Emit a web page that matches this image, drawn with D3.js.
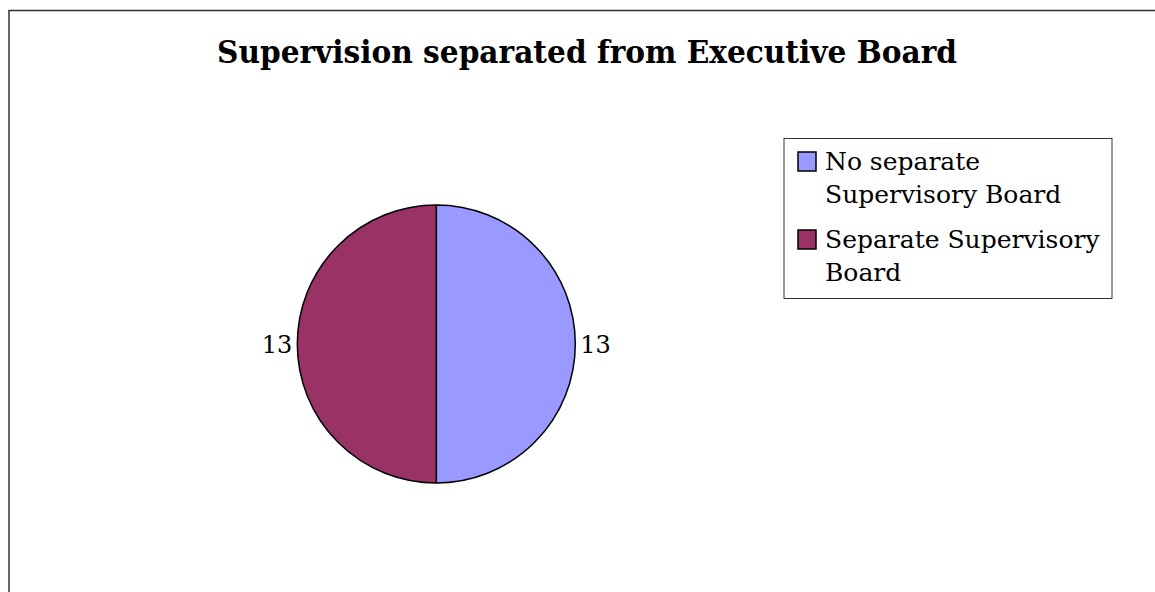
<!DOCTYPE html>
<html>
<head>
<meta charset="utf-8">
<script src="https://cdn.jsdelivr.net/npm/d3@7"></script>
<style>
  html, body { margin: 0; padding: 0; background: #fff; }
  svg { display: block; }
</style>
</head>
<body>
<svg id="chart" width="1155" height="592"></svg>
<script>
// Pie data: board structure counts
const categories = ["No separate Supervisory Board", "Separate Supervisory Board"];
const legendLines = [["No separate", "Supervisory Board"], ["Separate Supervisory", "Board"]];
const counts = [13, 13];
const colors = ["#9999FF", "#993366"];
const title = "Supervision separated from Executive Board";

const svg = d3.select("#chart");
const font = "'DejaVu Serif', 'Liberation Serif', serif";

// outer chart frame (extends past right and bottom edges)
svg.append("rect")
  .attr("x", 9).attr("y", 10.5)
  .attr("width", 1200).attr("height", 700)
  .attr("fill", "#fff").attr("stroke", "#333").attr("stroke-width", 1.5);

// title
svg.append("text")
  .attr("x", 587).attr("y", 63)
  .attr("text-anchor", "middle")
  .attr("font-family", font)
  .attr("font-weight", "bold")
  .attr("font-size", 31)
  .attr("textLength", 740)
  .attr("lengthAdjust", "spacingAndGlyphs")
  .text(title);

// pie
const cx = 436.3, cy = 344, r = 139;
const pie = d3.pie().sort(null).value(d => d);
const arcs = pie(counts);
const arc = d3.arc().innerRadius(0).outerRadius(r);

const g = svg.append("g").attr("transform", `translate(${cx},${cy})`);
g.selectAll("path.slice")
  .data(arcs)
  .join("path")
  .attr("class", "slice")
  .attr("d", arc)
  .attr("fill", (d, i) => colors[i])
  .attr("stroke", "#000")
  .attr("stroke-width", 1.5)
  .attr("stroke-linejoin", "round");

// value labels just outside the rim, at the slice mid-angle
const labelArc = d3.arc().innerRadius(r + 5).outerRadius(r + 5);
g.selectAll("text.val")
  .data(arcs)
  .join("text")
  .attr("class", "val")
  .attr("transform", d => { const [x, y] = labelArc.centroid(d); return `translate(${x},${y})`; })
  .attr("text-anchor", d => ((d.startAngle + d.endAngle) / 2 < Math.PI ? "start" : "end"))
  .attr("dy", "0.36em")
  .attr("font-family", font)
  .attr("font-size", 24)
  .attr("fill", "#000")
  .text(d => d.data);

// legend
const lx = 784, ly = 138.5, lw = 328, lh = 160;
svg.append("rect")
  .attr("x", lx).attr("y", ly).attr("width", lw).attr("height", lh)
  .attr("fill", "#fff").attr("stroke", "#333").attr("stroke-width", 1);

const itemTop = [152, 230];
const legend = svg.append("g");
categories.forEach((c, i) => {
  legend.append("rect")
    .attr("x", 798).attr("y", itemTop[i])
    .attr("width", 18).attr("height", 19)
    .attr("fill", colors[i]).attr("stroke", "#000").attr("stroke-width", 1.5);
  const t = legend.append("text")
    .attr("font-family", font)
    .attr("font-size", 25)
    .attr("fill", "#000");
  legendLines[i].forEach((line, j) => {
    t.append("tspan")
      .attr("x", 825)
      .attr("y", itemTop[i] + 18 + j * 33)
      .text(line);
  });
});
</script>
</body>
</html>
